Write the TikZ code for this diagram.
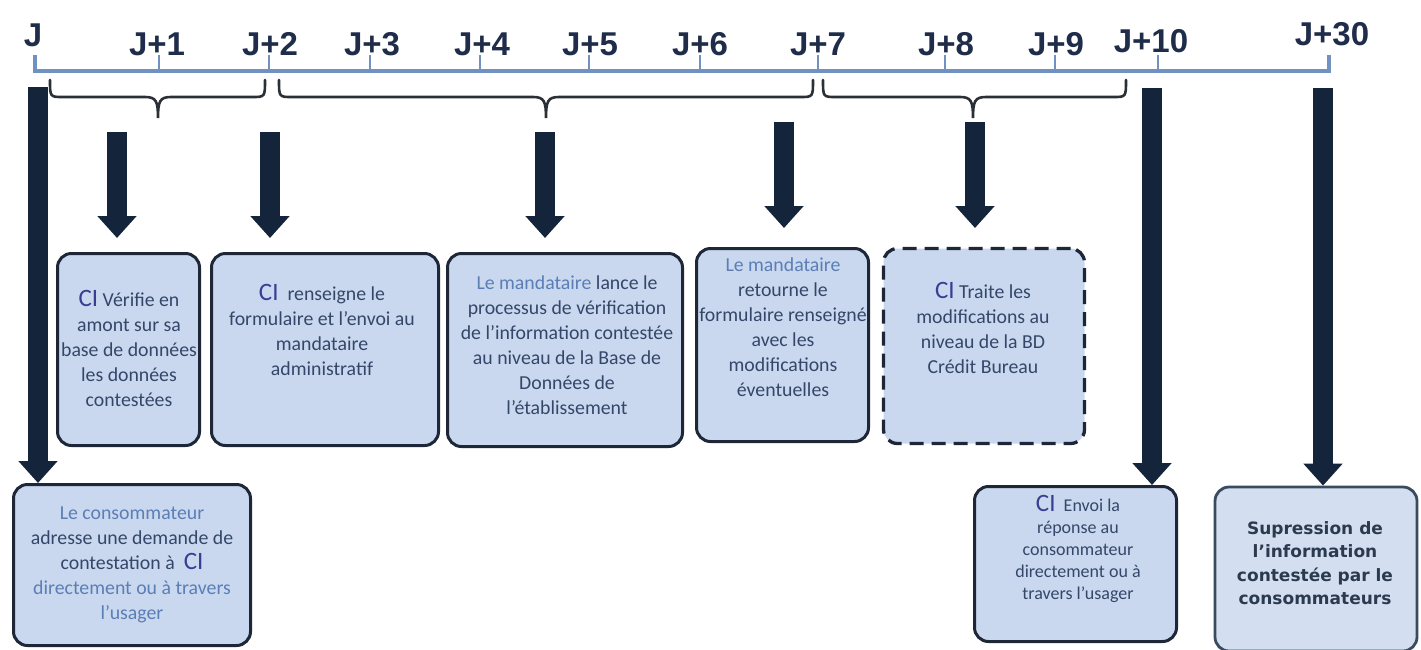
\documentclass[tikz,border=0pt]{standalone}
\usepackage{fontspec}
\setmainfont{Carlito}
\newfontfamily\labfont{Liberation Sans}
\newfontfamily\boldfont{DejaVu Sans}
\usetikzlibrary{arrows.meta}
\definecolor{tl}{HTML}{6F92C0}
\definecolor{navy}{HTML}{14243B}
\definecolor{labc}{HTML}{1F2D4A}
\definecolor{boxfill}{HTML}{C9D8EE}
\definecolor{boxfilltwo}{HTML}{D3DFF0}
\definecolor{boxline}{HTML}{1D2737}
\definecolor{boxlinetwo}{HTML}{3A4A5F}
\definecolor{txtc}{HTML}{34476A}
\definecolor{boldc}{HTML}{2C3A50}
\definecolor{lightc}{HTML}{5B7EB6}
\definecolor{cic}{HTML}{3B3D92}
\definecolor{bracec}{HTML}{2B2F36}
\newcommand\ciword{{\color{cic}\fontsize{25}{25}\selectfont CI}}
\newcommand\dobrace[3]{%
  \draw[bracel] ({#1},80) .. controls ({#1},97) and ({#1},97) .. ({#1+13},97)
    -- ({#2-13},97) .. controls ({#2-2},97) and ({#2},101) .. ({#2},118)
    .. controls ({#2},101) and ({#2+2},97) .. ({#2+13},97)
    -- ({#3-13},97) .. controls ({#3},97) and ({#3},97) .. ({#3},80);}
\begin{document}
\begin{tikzpicture}[x=1pt,y=-1pt,
  axis/.style={draw=tl, line width=3.5pt},
  tickline/.style={draw=tl, line width=2.2pt},
  daylab/.style={font=\labfont\bfseries\fontsize{33}{33}\selectfont, text=labc, inner sep=0pt, anchor=base},
  bracel/.style={draw=bracec, line width=2.6pt, line cap=round},
  bigarrow/.style={draw=navy, line width=20pt, -{Triangle[length=22pt,width=38pt]}},
  stepbox/.style={draw=boxline, fill=boxfill, line width=3pt, rounded corners=14pt, inner sep=0pt},
  txt/.style={align=center, text=txtc, font=\fontsize{19.8}{25}\selectfont, inner sep=0pt},
]
\useasboundingbox (0,0) rectangle (1421,649);

% timeline
\draw[axis] (35,55) -- (35,71) -- (1329,71) -- (1329,55);
\foreach \x in {159,269,370,480,589,700,818,945,1055,1158}
  \draw[tickline] (\x,71) -- (\x,55);

% day labels
\node[daylab] (lJ) at (33,46) {J};
\node[daylab] (l1) at (157,55) {J+1};
\node[daylab] (l2) at (270,55) {J+2};
\node[daylab] (l3) at (372,55) {J+3};
\node[daylab] (l4) at (482,55) {J+4};
\node[daylab] (l5) at (590,55) {J+5};
\node[daylab] (l6) at (700,55) {J+6};
\node[daylab] (l7) at (818,55) {J+7};
\node[daylab] (l8) at (946,55) {J+8};
\node[daylab] (l9) at (1056,55) {J+9};
\node[daylab] (l10) at (1151,52) {J+10};
\node[daylab] (l30) at (1332,45) {J+30};

% braces
\dobrace{50}{158}{265}
\dobrace{279}{546}{813}
\dobrace{823}{973}{1126}

% boxes
\node[stepbox, minimum width=142pt, minimum height=192pt] (b1) at (128.5,349.5) {};
\node[stepbox, minimum width=227pt, minimum height=192pt] (b2) at (325,349.5) {};
\node[stepbox, minimum width=235pt, minimum height=193pt] (b3) at (565,350) {};
\node[stepbox, minimum width=172pt, minimum height=193pt] (b4) at (782.5,345) {};
\node[stepbox, dash pattern=on 14pt off 8pt, line width=3.3pt, minimum width=201pt, minimum height=195pt] (b5) at (984,346) {};
\node[stepbox, minimum width=237pt, minimum height=161pt] (b6) at (132,565) {};
\node[stepbox, minimum width=202pt, minimum height=155pt] (b7) at (1075.5,564) {};
\node[stepbox, draw=boxlinetwo, fill=boxfilltwo, line width=2.8pt, minimum width=202pt, minimum height=164pt] (b8) at (1316,569) {};

% texts
\node[txt] (t1) at (129,348) {\ciword{} Vérifie en\\amont sur sa\\base de données\\les données\\contestées};
\node[txt] (t2) at (322,330) {\ciword{}\ \ renseigne le\\formulaire et l’envoi au\\mandataire\\administratif};
\node[txt] (t3) at (567,345) {{\color{lightc}Le mandataire} lance le\\processus de vérification\\de l’information contestée\\au niveau de la Base de\\Données de\\l’établissement};
\node[txt] (t4) at (783,327) {{\color{lightc}Le mandataire}\\retourne le\\formulaire renseigné\\avec les\\modifications\\éventuelles};
\node[txt] (t5) at (983,328) {\ciword{} Traite les\\modifications au\\niveau de la BD\\Crédit Bureau};
\node[txt] (t6) at (132,565) {{\color{lightc}Le consommateur}\\adresse une demande de\\contestation à \ \ciword\\{\color{lightc}directement ou à travers}\\{\color{lightc}l’usager}};
\node[txt, font=\fontsize{18}{22}\selectfont] (t7) at (1078,549) {\ciword{}\ \ Envoi la\\réponse au\\consommateur\\directement ou à\\travers l’usager};
\node[txt, text=boldc, font=\boldfont\bfseries\fontsize{17}{23.5}\selectfont] (t8) at (1315,563) {Supression de\\l’information\\contestée par le\\consommateurs};

% arrows
\coordinate (sJ) at (38,87);
\coordinate (s1) at (117,132);
\coordinate (e1) at (117,238);
\coordinate (s2) at (270,132);
\coordinate (e2) at (270,238);
\coordinate (s3) at (545,132);
\coordinate (e3) at (545,238);
\coordinate (s4) at (784,122);
\coordinate (e4) at (784,228);
\coordinate (s5) at (975,122);
\coordinate (e5) at (975,228);
\coordinate (s10) at (1152,88);
\coordinate (s30) at (1323,88);
\draw[bigarrow] (sJ) -- (sJ |- b6.north);
\draw[bigarrow] (s1) -- (e1);
\draw[bigarrow] (s2) -- (e2);
\draw[bigarrow] (s3) -- (e3);
\draw[bigarrow] (s4) -- (e4);
\draw[bigarrow] (s5) -- (e5);
\draw[bigarrow] (s10) -- (s10 |- b7.north);
\draw[bigarrow] (s30) -- (s30 |- b8.north);
\end{tikzpicture}
\end{document}
